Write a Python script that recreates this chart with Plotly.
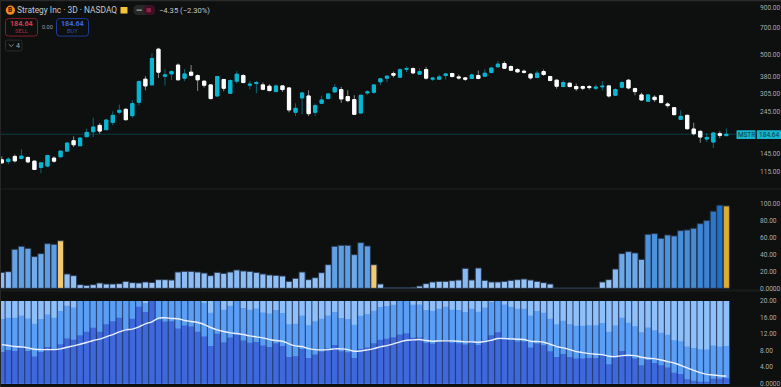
import plotly.graph_objects as go
from plotly.colors import sample_colorscale

opens = [134.1,131.3,139.9,136.4,138.1,131.9,121.9,124,137,139.3,
149.5,170.2,159.9,179,190.5,206.1,195.3,214.1,242.7,251.9,
232.7,275,366.9,341.7,533.7,380.8,392.1,437.6,371.4,400.5,
384,357.8,341.7,297.6,365.5,307.9,357.8,384,340.3,347.5,
341.7,336.1,314.3,337.4,329,242.7,290.4,297.6,242.7,271.6,
288,313,322.3,295.3,284.4,240.6,309.1,311.7,355,371.7,
393.8,376,415.3,418.8,390.6,413.9,367,367,384,393.8,
377.7,373,370.2,384,381,398.8,428.1,446.4,430,413.9,
405.4,390.6,374.6,403.7,379.3,362.3,334.7,349,334.7,334.7,
334.7,327.7,333.3,337.4,300.3,331.9,362.3,326.3,301.6,278.6,
292.8,298.8,269.3,257.2,222.3,233.7,197,191.4,173.8,167.4,
185.8,181.3]
closes = [129.2,135.3,132.4,140.5,130.8,118.9,129.2,141.6,131.9,149.5,
165.3,161.9,176,188.9,201.9,192,220.4,233.7,248.8,221.3,
270.5,356.2,337.4,475.3,400.5,387.2,403.7,364.1,392.1,385.6,
364.1,340.3,288,379.3,327.7,360.8,390.6,351.9,344.6,351.9,
323.6,318.3,337.4,322.3,250,255.1,309.1,238.6,263.9,283.2,
305.3,330.6,286.8,280.8,236.7,300.3,313,341.7,368.6,381,
385.6,413.4,418.8,397.1,403.7,371.7,371.7,377.7,392.1,379.3,
373,367,387.2,370.2,395.4,421.9,442.7,420.6,410.6,402,
400.5,373,395.4,389,360.8,336.1,351.9,334.7,325.7,327.7,
330.6,331.9,336.1,297.6,322.3,351.9,329,314.3,283.2,301.6,
284.4,274,263.9,235.7,230.8,197.8,185.8,178.2,177.4,187.4,
182,184.64]
highs = [139.9,138.7,143.4,152.7,139.9,133,130.3,142.8,139.9,150.8,
167.4,179.7,178.2,197.8,227,212.3,223.2,245.7,267,256.2,
282,362.3,381,505.9,543,416,410.6,446.4,416,437.6,
390.6,362.3,344.6,382.5,368.6,365.5,405.4,390.6,359.3,359.3,
352.4,344.6,343.2,340.3,331.9,271.6,313,319.6,270.5,299,
309.1,344.6,333.3,319.6,300.3,303,319.6,344.6,373.4,387.2,
403.7,420.6,429.9,425.8,420.6,428.1,377.7,388.9,397.1,397.1,
388.9,376.1,393.8,409,416,425.8,458.6,458.6,435.6,420.6,
413.9,395.4,409,413.9,382.5,366.9,362.3,351.9,347.5,338.8,
341.7,343.2,357.8,341.7,327.7,357.8,366.9,330.6,310.4,305.3,
300.3,301.6,275,259.4,248.8,235.7,213,193.7,187.4,189.7,
191.4,198.5]
lows = [127.6,127.1,129.7,134.7,128.7,117.9,113.5,122.4,129.2,138.1,
147.7,157.2,158.5,177.4,178.2,185.8,194.5,206.1,236.7,219.5,
226,264.9,319.6,340.3,373,339,364.1,362.3,357.8,381,
317,330.6,285.6,294,315.6,305.3,347.5,349,323.6,307.9,
319.6,315.6,311.7,313,242.7,231.8,236.7,231.8,231.8,269.3,
285.6,310.4,273,275,234.8,238.6,301.6,305.3,340.3,353.4,
374.6,374.6,400.5,390.6,387.2,365.5,359.3,364.1,365.5,374.6,
365.5,359.3,368.6,367,377.7,393.8,426,417.3,407.2,398.8,
393.8,365.5,371.4,382.5,357.8,325.7,331.9,331.9,317,319.6,
322.3,319.6,318.3,291.6,297.6,327.7,323.6,300.3,280.8,276.3,
276.3,271.6,257.2,233.7,220.4,195.3,182,166,167.4,155.2,
176,180.6]

oscillator = [18.8,19.6,45.9,49.4,47,37.3,40.8,52.5,51.8,56,
16.9,14.9,4.3,3.5,4.3,6.3,5.1,5.1,5.5,8.2,
6.7,6.3,7.5,7,10.2,10.2,9.8,19.2,20,20,
19.2,18,14.9,18.8,17.6,19.2,21.6,20.4,20,18.8,
16.9,15.7,15.3,14.5,8.2,11.8,19.2,10.2,12.5,18.4,
27.8,49.4,50.6,50.6,39.6,53.7,49.8,27.8,5.1,0.8,
0.8,0.8,0.6,1.2,2.7,5.5,7.5,8.2,8.2,9,
9.8,23.5,9.8,23.9,9.4,7.5,7.5,8.2,9.4,10.2,
11,9.8,8.2,6.7,5.1,0.5,0.5,0.5,0.5,0.5,
0.5,0.5,7.5,10.2,22.7,40.8,43.1,41.6,34,63.5,
64.3,58.8,62.7,61.6,67.8,68.6,70.6,76,79.6,90.6,
97.6,96.9]
oscillator_pale = [9, 57]
oscillator_gold = [111]

band_low = [7.69,8.18,7.93,8.66,7.93,6.56,7.69,8.91,8.26,9.55,
10.93,10.61,11.74,12.55,13.52,12.55,14.41,15.14,15.95,13.2,
15.71,18.62,17.33,20,15.55,15.06,15.14,13.36,14.09,13.85,
12.55,11.42,9.15,12.06,10.04,11.17,11.9,10.45,9.88,10.12,
9.23,8.91,9.8,9.15,6.48,6.64,8.42,6.23,7.04,7.77,
8.5,9.39,7.85,7.61,6.23,8.42,8.74,9.8,10.61,10.85,
11.25,11.9,12.23,11.09,11.17,9.88,9.64,10.12,10.53,9.88,
9.8,9.47,10.04,9.39,10.45,11.74,12.47,11.17,10.61,10.2,
10.2,8.74,9.72,9.31,7.85,6.48,7.21,6.48,6.07,6.07,
6.23,6.23,6.8,4.7,6.32,7.93,6.64,6.07,4.45,5.75,
5.02,4.45,3.89,2.67,2.35,1.05,0.73,0.32,0.24,1.21,
1.21,1.3]
band_mid = [15.63,15.95,15.95,16.52,15.79,14.49,15.63,16.76,15.95,17.57,
18.87,18.46,20,20,20,20,20,20,20,20,
20,20,19.5,20,20,20,20,20,20,20,
20,19.59,17.17,20,17.89,18.87,20,18.3,17.89,18.22,
17.25,17,17.81,17.08,14.41,14.49,16.52,14.17,15.14,15.71,
16.52,17.33,15.87,15.63,14.25,16.44,16.84,17.65,18.54,18.78,
19.11,20,20,19.11,19.19,17.81,17.65,18.14,18.62,17.89,
17.81,17.33,18.14,17.41,18.46,19.76,20,19.19,18.62,18.14,
18.14,16.52,17.57,17.17,15.71,14.41,15.22,14.41,14.01,14.01,
14.17,14.17,14.66,12.55,14.09,15.95,14.74,13.93,12.47,13.6,
12.96,12.31,11.82,10.53,10.28,8.99,8.66,8.34,8.26,9.23,
8.99,9.15]
band_top = [20] * 112
avg_line = [9.47,9.23,8.99,8.91,8.66,8.34,8.26,8.26,8.26,8.42,
8.83,9.15,9.55,9.96,10.45,10.77,11.34,11.9,12.55,13.04,
13.2,13.76,14.49,14.98,15.87,15.95,15.79,15.71,15.3,15.06,
14.82,14.33,13.6,13.04,12.63,12.31,12.15,11.9,11.58,11.34,
11.09,10.69,10.45,10.28,9.64,9.15,8.99,8.5,8.26,8.18,
8.26,8.42,8.42,8.26,7.85,7.93,8.18,8.5,8.91,9.23,
9.64,10.12,10.53,10.61,10.69,10.45,10.28,10.36,10.36,10.36,
10.28,10.12,10.12,10.04,10.2,10.53,10.93,10.93,10.85,10.77,
10.69,10.28,10.2,10.04,9.55,8.99,8.66,8.26,7.77,7.53,
7.29,7.13,7.04,6.64,6.56,6.8,6.88,6.8,6.4,6.15,
6.07,5.75,5.34,5.02,4.45,3.81,3.24,2.67,2.27,2.11,
1.94,1.86]

price_ticks = [900, 700, 500, 380, 305, 245, 145, 115]
price_labels = ["900.00", "700.00", "500.00", "380.00", "305.00", "245.00", "145.00", "115.00"]
osc_ticks = [0, 20, 40, 60, 80, 100]
osc_labels = ["0.0000", "20.00", "40.00", "60.00", "80.00", "100.00"]
band_ticks = [0, 4, 8, 12, 16, 20]
band_labels = ["0.0000", "4.00", "8.00", "12.00", "16.00", "20.00"]
last_price = 184.64

W, H, MR = 781, 387, 22
PW = W - MR
BG = "#0e0f0f"
FONT = "Roboto"
CYAN = "#08b7d2"
idx = list(range(len(opens)))


def px(v):
    return v / PW


def py(v):
    return 1 - v / H


fig = go.Figure()
fig.add_trace(go.Candlestick(x=idx, open=opens, high=highs, low=lows, close=closes,
                             increasing=dict(line=dict(color="#0a6877", width=1), fillcolor="#0a6877"),
                             decreasing=dict(line=dict(color="#8a8a8a", width=1), fillcolor="#8a8a8a"),
                             whiskerwidth=0, showlegend=False, hoverinfo="skip", xaxis="x", yaxis="y"))
fig.add_trace(go.Candlestick(x=idx, open=opens, close=closes,
                             high=[max(a, b) for a, b in zip(opens, closes)],
                             low=[min(a, b) for a, b in zip(opens, closes)],
                             increasing=dict(line=dict(color=CYAN, width=1), fillcolor=CYAN),
                             decreasing=dict(line=dict(color="#ffffff", width=1), fillcolor="#ffffff"),
                             whiskerwidth=0, showlegend=False, hoverinfo="skip", xaxis="x", yaxis="y"))

scale = [[0, "#a2caf7"], [0.2, "#8dbcf4"], [0.45, "#67a4e6"], [0.65, "#4a90dc"],
         [0.8, "#3a83d6"], [1, "#1a6fca"]]
osc_colors = sample_colorscale(scale, [v / 100 for v in oscillator])
for i in oscillator_pale:
    osc_colors[i] = "#f3c873"
for i in oscillator_gold:
    osc_colors[i] = "#dfad2d"
fig.add_trace(go.Bar(x=idx, y=oscillator, marker=dict(color=osc_colors, line=dict(color="#26364a", width=1)),
                     xaxis="x2", yaxis="y2", showlegend=False, hoverinfo="skip"))

for vals, col in [(band_top, "#90c0f9"), (band_mid, "#5a9ef5"), (band_low, "#3f68dd")]:
    fig.add_trace(go.Bar(x=idx, y=vals, width=1.0, marker=dict(color=col, line=dict(width=0)),
                         xaxis="x3", yaxis="y3", showlegend=False, hoverinfo="skip"))
sep_x, sep_y = [], []
for i, top in zip(idx, band_top):
    sep_x += [i + 0.5, i + 0.5, None]
    sep_y += [0, top, None]
fig.add_trace(go.Scatter(x=sep_x, y=sep_y, mode="lines", line=dict(color="rgba(22,42,80,0.72)", width=1.2),
                         xaxis="x3", yaxis="y3", showlegend=False, hoverinfo="skip"))
fig.add_trace(go.Scatter(x=idx, y=avg_line, mode="lines", line=dict(color="#eaf0fb", width=1.4, shape="spline"),
                         xaxis="x3", yaxis="y3", showlegend=False, hoverinfo="skip"))

xr = [-0.276, 116.0]
xcommon = dict(range=xr, visible=False, fixedrange=True)
ycommon = dict(side="right", showgrid=False, zeroline=False, showline=False, ticks="",
               tickfont=dict(family=FONT, size=6.6, color="#a9acb0"), tickmode="array")

shapes = []
ann = []


def rrect(x0, y0, x1, y1, r, line=None, fill=None, lw=1):
    X0, X1, Y0, Y1 = px(x0), px(x1), py(y0), py(y1)
    rx, ry = px(r), r / H
    path = (f"M{X0+rx},{Y0} L{X1-rx},{Y0} Q{X1},{Y0} {X1},{Y0-ry} L{X1},{Y1+ry} Q{X1},{Y1} {X1-rx},{Y1} "
            f"L{X0+rx},{Y1} Q{X0},{Y1} {X0},{Y1+ry} L{X0},{Y0-ry} Q{X0},{Y0} {X0+rx},{Y0} Z")
    shapes.append(dict(type="path", path=path, xref="paper", yref="paper", layer="above",
                       line=dict(color=line or "rgba(0,0,0,0)", width=lw if line else 0),
                       fillcolor=fill or "rgba(0,0,0,0)"))


def text(x, y, s, size, color, anchor="left", bold=False):
    ann.append(dict(x=px(x), y=py(y), xref="paper", yref="paper", text=f"<b>{s}</b>" if bold else s,
                    showarrow=False, xanchor=anchor, yanchor="middle", borderpad=0, borderwidth=0,
                    font=dict(family=FONT, size=size, color=color)))


# frame and pane separators
for y0, y1, c in [(0, 1.2, "#2a2a2a"), (187.8, 189, "#1d1e1e"), (288.6, 291, "#191a1a"), (385, 387, "#151616")]:
    shapes.append(dict(type="rect", xref="paper", yref="paper", x0=0, x1=W / PW, y0=py(y1), y1=py(y0),
                       line=dict(width=0), fillcolor=c, layer="below"))
shapes.append(dict(type="rect", xref="paper", yref="paper", x0=0, x1=px(1), y0=0, y1=1,
                   line=dict(width=0), fillcolor="#262626", layer="above"))
# last price line
shapes.append(dict(type="line", xref="paper", yref="y", x0=0, x1=px(736), y0=last_price, y1=last_price,
                   line=dict(color="#0d3f46", width=1), layer="below"))

# logo, title, flag, pill
shapes.append(dict(type="circle", xref="paper", yref="paper", x0=px(5.8), x1=px(15), y0=py(14.8), y1=py(5.6),
                   fillcolor="#f08a1c", line=dict(width=0), layer="above"))
text(10.4, 10.2, "B", 6.5, "#1a1208", "center", True)
text(17, 10.2, "Strategy Inc · 3D · NASDAQ", 8.4, "#c5c8cc")
shapes.append(dict(type="path", path=f"M{px(120.5)},{py(7)} L{px(127.5)},{py(7)} L{px(127.5)},{py(13.5)} "
                   f"L{px(120.5)},{py(13.5)} L{px(120.5)},{py(7)} Z", xref="paper", yref="paper",
                   fillcolor="#f4c33a", line=dict(width=0), layer="above"))
rrect(133.5, 5, 155, 15, 4.5, fill="#262727")
rrect(144, 5, 155, 15, 4.5, fill="#3f0f24")
rrect(136.5, 9.4, 142, 10.8, 0.4, fill="#a5a7a9")
rrect(146.5, 8, 151, 12.2, 0.6, fill="#8c2442")
text(159, 10.2, "−4.35 (−2.30%)", 7.6, "#c2c5c8")

# trade boxes
rrect(5.5, 18.5, 37.5, 36, 3, line="#7f1f2c")
text(21.5, 23.7, "184.64", 7.2, "#d83a48", "center", True)
text(21.5, 31, "SELL", 5.8, "#a92b38", "center")
text(47, 27, "0.00", 5.6, "#9a9c9e", "center")
rrect(56.5, 18.5, 88.5, 36, 3, line="#1d3c96")
text(72.5, 23.7, "184.64", 7.2, "#3a66e0", "center", True)
text(72.5, 31, "BUY", 5.8, "#2a4fb8", "center")

# indicator collapse box
rrect(5.5, 40, 22, 50.8, 1.5, line="#2a2b2b")
shapes.append(dict(type="path", xref="paper", yref="paper", layer="above",
                   path=f"M{px(8.8)},{py(44.2)} L{px(11.2)},{py(46.4)} L{px(13.6)},{py(44.2)}",
                   line=dict(color="#a0a2a4", width=0.8)))
text(17.5, 45.6, "4", 7, "#a8aaac", "center")

# last price tags
rrect(736.5, 130, 755.5, 138.6, 0.5, fill="#16b4cf")
rrect(756.8, 130, 781, 138.6, 0.5, fill="#16b4cf")
text(746, 134.4, "MSTR", 6.4, "#063b47", "center")
text(769, 134.4, "184.64", 6.6, "#063b47", "center")

fig.update_layout(
    width=W, height=H + 5, autosize=False,
    margin=dict(l=0, r=MR, t=0, b=0, pad=0),
    paper_bgcolor=BG, plot_bgcolor=BG,
    barmode="overlay", bargap=0.06, boxmode="overlay", boxgap=0.3,
    showlegend=False, shapes=shapes, annotations=ann,
    xaxis=dict(domain=[0, 1], anchor="y", rangeslider=dict(visible=False), **xcommon),
    xaxis2=dict(domain=[0, 1], anchor="y2", **xcommon),
    xaxis3=dict(domain=[0, 1], anchor="y3", **xcommon),
    yaxis=dict(domain=[py(188), py(0)], type="log", range=[1.9721, 2.9939], anchor="x",
               tickvals=price_ticks, ticktext=price_labels, **ycommon),
    yaxis2=dict(domain=[py(288), py(190)], range=[-0.47, 115], anchor="x2",
                tickvals=osc_ticks, ticktext=osc_labels, **ycommon),
    yaxis3=dict(domain=[py(383), py(296)], range=[-0.07, 21.04], anchor="x3",
                tickvals=band_ticks, ticktext=band_labels, **ycommon),
)
fig.write_html("out.html", config=dict(displayModeBar=False, responsive=False),
               post_script="document.body.style.margin='0';document.body.style.overflow='hidden';"
                           "document.documentElement.style.overflow='hidden';document.body.style.background='%s';" % BG)
